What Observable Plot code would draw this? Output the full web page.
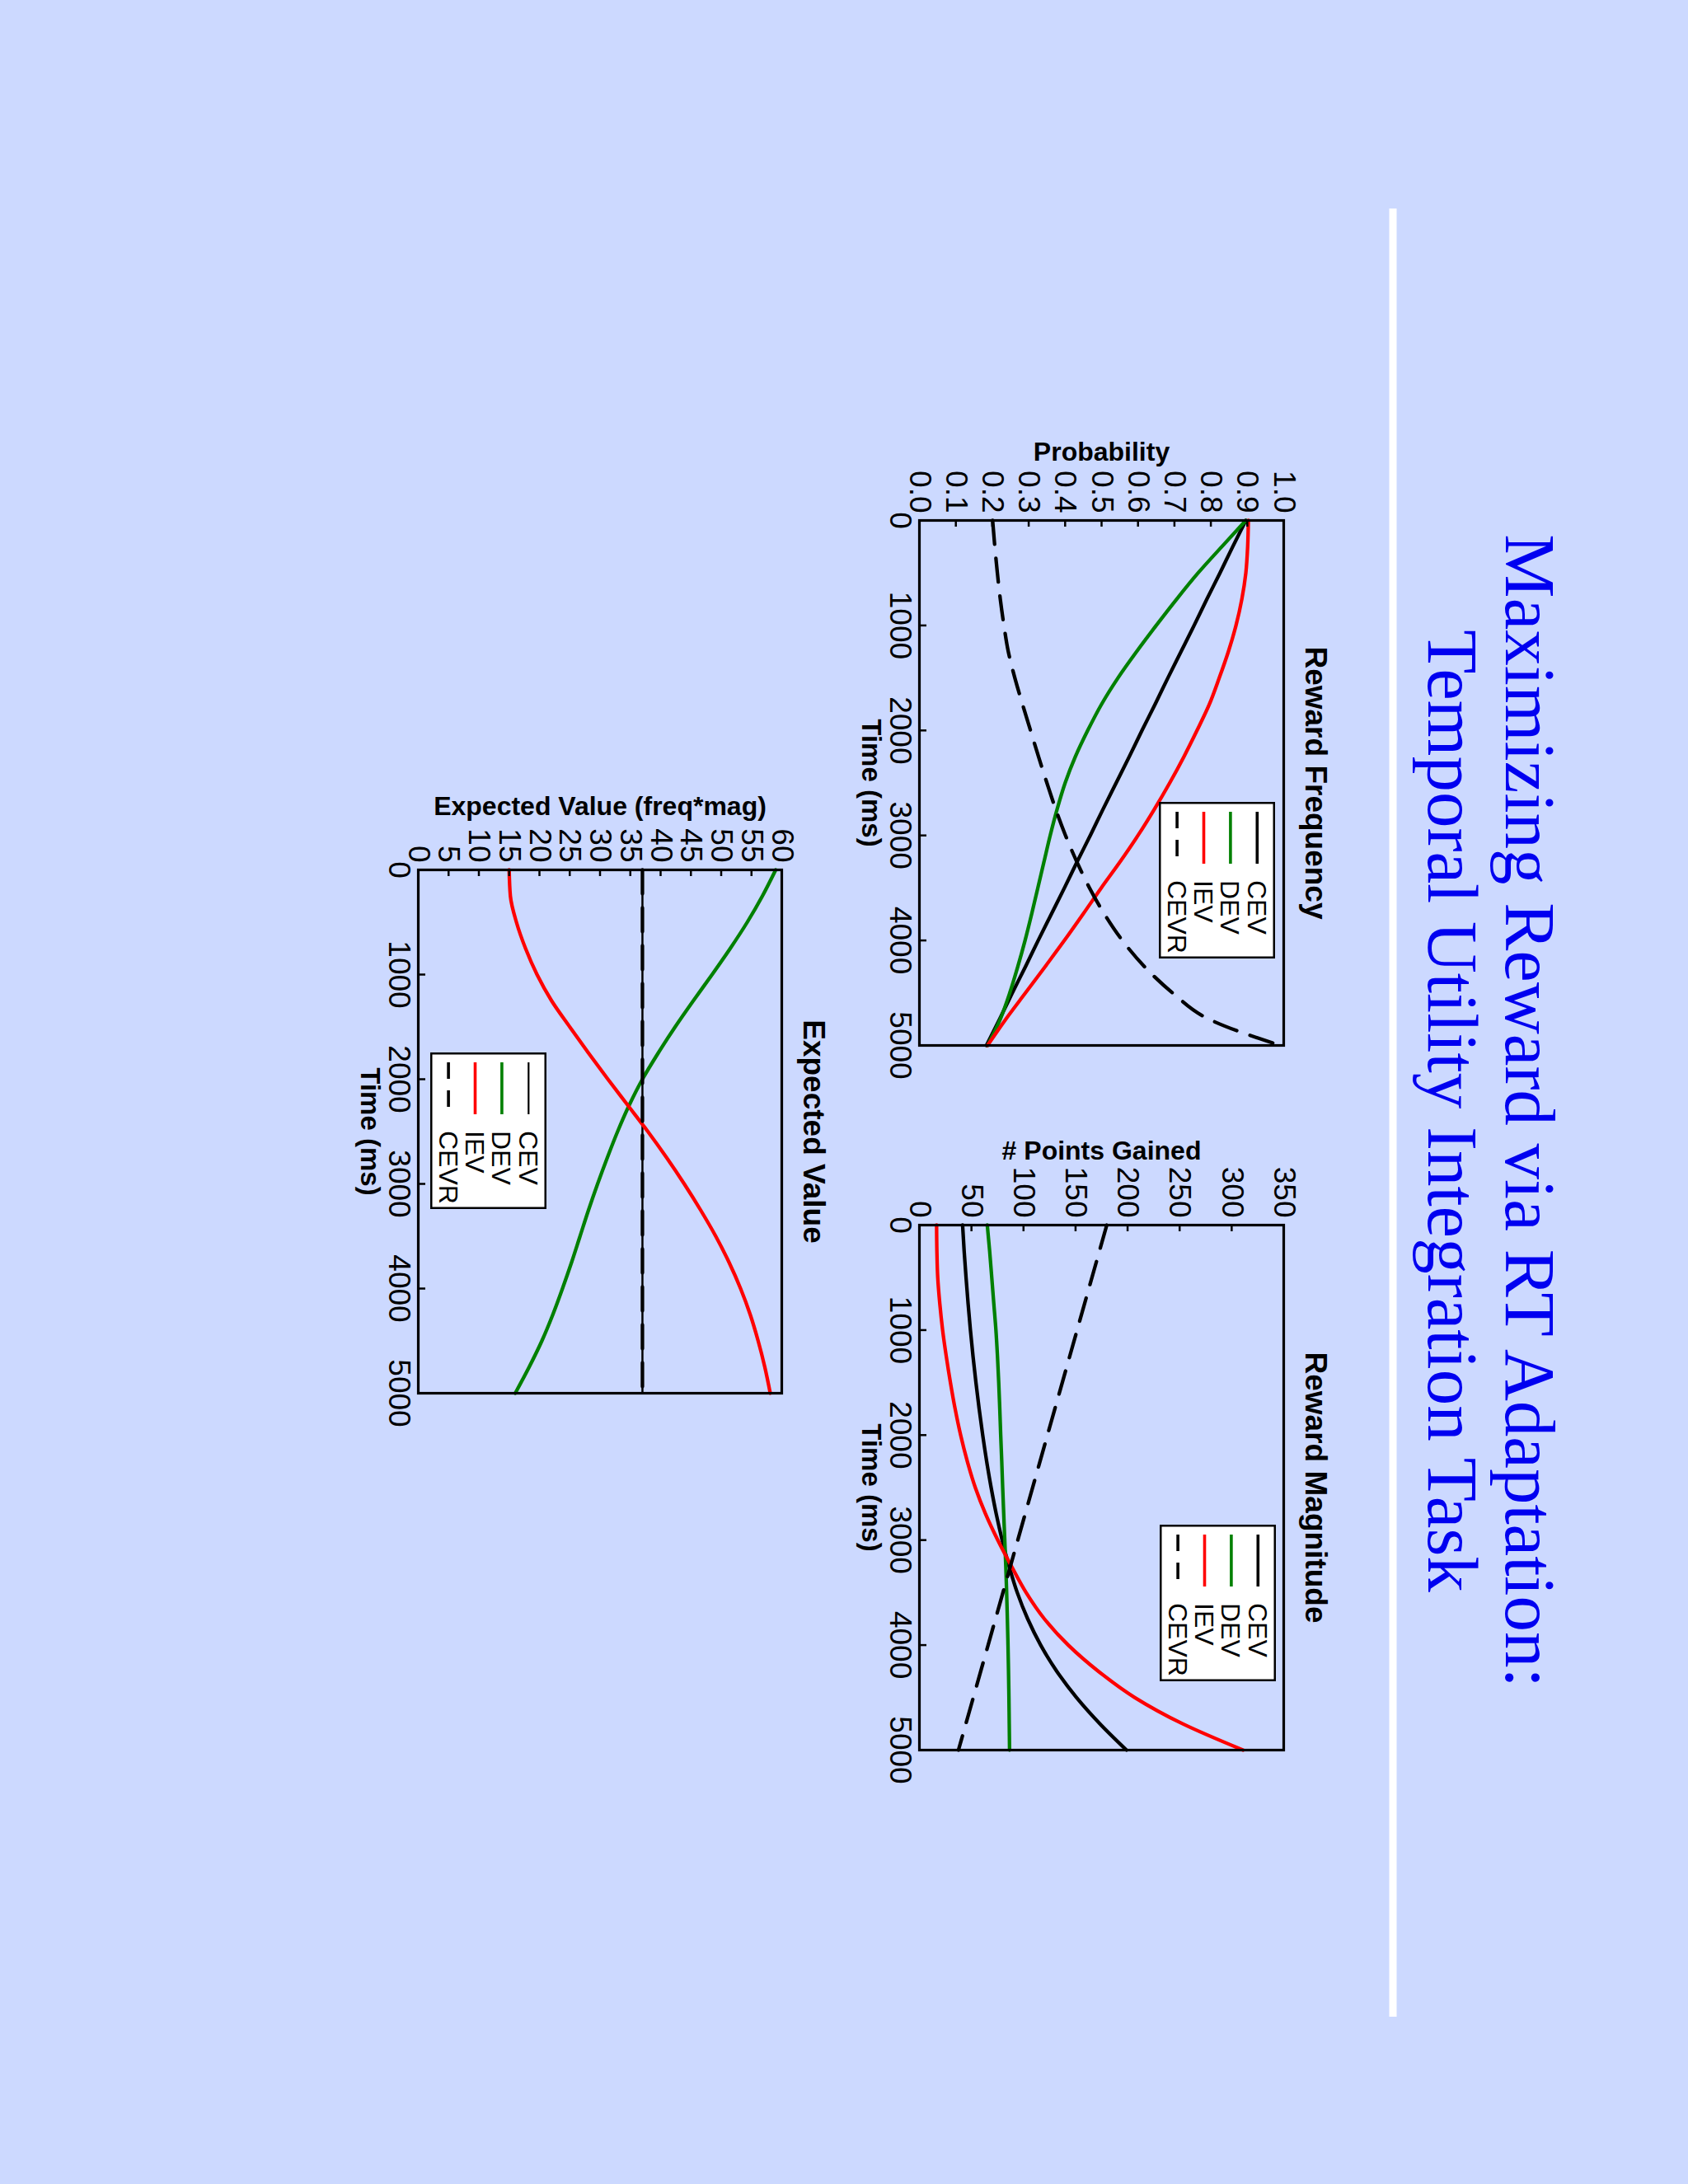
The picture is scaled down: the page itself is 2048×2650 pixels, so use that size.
<!DOCTYPE html>
<html>
<head>
<meta charset="utf-8">
<script src="https://cdn.jsdelivr.net/npm/d3@7"></script>
<script src="https://cdn.jsdelivr.net/npm/@observablehq/plot@0.6"></script>
<style>
html, body { margin: 0; padding: 0; background: #ccd9ff; }
body { width: 2048px; height: 2650px; overflow: hidden; position: relative; }
#slide { position: absolute; left: 0; top: 0; width: 2650px; height: 2048px;
  transform-origin: 0 0; transform: translate(2048px, 0) rotate(90deg); }
#slide > svg { position: absolute; }
</style>
</head>
<body>
<div id="slide"></div>
<script>
// ---------- data ----------
const TITLE_LINES = ["Maximizing Reward via RT Adaptation:", "Temporal Utility Integration Task"];
const CONDITIONS = ["CEV", "DEV", "IEV", "CEVR"];
const COLORS = ["#000000", "#008000", "#ff0000", "#000000"];
const TIME = [0, 250, 500, 750, 1000, 1250, 1500, 1750, 2000, 2250, 2500, 2750, 3000, 3250, 3500, 3750, 4000, 4250, 4500, 4750, 5000];
const TIME_TICKS = [0, 1000, 2000, 3000, 4000, 5000];

// Reward Frequency (probability)
const FREQ_CEV  = [0.896, 0.860, 0.825, 0.789, 0.754, 0.718, 0.682, 0.647, 0.611, 0.576, 0.540, 0.504, 0.469, 0.433, 0.398, 0.362, 0.326, 0.291, 0.255, 0.220, 0.184];
const FREQ_DEV  = [0.896, 0.830, 0.765, 0.706, 0.650, 0.596, 0.545, 0.500, 0.462, 0.428, 0.400, 0.378, 0.359, 0.342, 0.325, 0.308, 0.290, 0.270, 0.248, 0.222, 0.187];
const FREQ_IEV  = [0.903, 0.901, 0.896, 0.885, 0.869, 0.848, 0.823, 0.796, 0.762, 0.726, 0.687, 0.645, 0.600, 0.551, 0.499, 0.449, 0.398, 0.345, 0.291, 0.237, 0.187];
const FREQ_CEVR = [0.201, 0.207, 0.214, 0.222, 0.232, 0.244, 0.262, 0.283, 0.305, 0.327, 0.350, 0.374, 0.401, 0.432, 0.467, 0.508, 0.557, 0.618, 0.695, 0.795, 0.990];
const FREQ_TICKS = [0, 0.1, 0.2, 0.3, 0.4, 0.5, 0.6, 0.7, 0.8, 0.9, 1.0];

// Reward Magnitude (# points gained)
const MAG_CEV  = [41.5, 43.0, 44.8, 46.8, 49.0, 51.5, 54.3, 57.4, 60.8, 64.6, 68.9, 73.8, 79.5, 86.2, 94.0, 104.0, 116.5, 132.0, 151.0, 173.5, 199.0];
const MAG_DEV  = [65.2, 67.5, 69.5, 71.5, 73.5, 75.0, 76.2, 77.2, 78.1, 79.1, 80.0, 81.0, 82.0, 83.0, 83.8, 84.5, 85.1, 85.6, 86.0, 86.3, 86.6];
const MAG_IEV  = [16.5, 16.8, 17.6, 19.6, 22.3, 25.8, 29.8, 34.3, 39.6, 46.0, 53.7, 63.5, 75.3, 88.5, 102.5, 120.0, 143.0, 172.0, 207.0, 253.0, 311.0];
const MAG_CEVR_TIME = [0, 1000, 2000, 3000, 4000, 5000];
const MAG_CEVR = [180, 151.5, 123, 94.5, 66, 37.5];
const MAG_TICKS = [0, 50, 100, 150, 200, 250, 300, 350];

// Expected Value (freq*mag)
const EV_DEV  = [59.0, 56.8, 54.3, 51.5, 48.5, 45.4, 42.4, 39.6, 37.0, 34.8, 32.9, 31.2, 29.6, 28.1, 26.7, 25.3, 23.8, 22.2, 20.4, 18.3, 16.0];
const EV_IEV  = [15.0, 15.2, 16.2, 17.7, 19.6, 22.0, 25.0, 28.1, 31.3, 34.6, 37.9, 41.0, 43.9, 46.6, 49.1, 51.3, 53.2, 54.8, 56.1, 57.2, 58.1];
const EV_FLAT_TIME = [0, 5000];
const EV_CEV  = [37, 37];
const EV_CEVR = [37, 37];
const EV_TICKS = [0, 5, 10, 15, 20, 25, 30, 35, 40, 45, 50, 55, 60];

// ---------- drawing ----------
const SANS = "'Liberation Sans', Arial, Helvetica, sans-serif";
const slide = document.getElementById("slide");

// title + divider
const over = d3.select(slide).append("svg")
  .attr("width", 2650).attr("height", 2048).style("left", "0px").style("top", "0px");
over.append("line").attr("x1", 253).attr("x2", 2447).attr("y1", 358).attr("y2", 358)
  .attr("stroke", "#ffffff").attr("stroke-width", 9);
[221, 315].forEach((y, i) => {
  over.append("text").attr("x", 1348).attr("y", y).attr("text-anchor", "middle")
    .attr("font-family", "'Liberation Serif', 'Times New Roman', serif")
    .attr("font-size", 87).attr("fill", "#0000f0").text(TITLE_LINES[i]);
});

function chart(cfg) {
  const ML = 170, MR = 60, MT = 90, MB = 120;
  const marks = [];
  cfg.series.forEach((s, k) => {
    const data = s.t.map((t, i) => ({t, v: s.v[i]}));
    marks.push(Plot.line(data, {
      x: "t", y: "v", stroke: COLORS[k], strokeWidth: s.w,
      strokeDasharray: k === 3 ? "29,17" : undefined, curve: "monotone-x"
    }));
  });
  marks.push(
    Plot.frame({stroke: "black", strokeWidth: 3.2}),
    Plot.axisX({ticks: TIME_TICKS, tickFormat: "d", tickSize: -8, tickPadding: 17, fontSize: 37, label: null, strokeWidth: 2.5}),
    Plot.axisY({ticks: cfg.yTicks, tickFormat: cfg.yFormat, tickSize: -8, tickPadding: 17, fontSize: 37, label: null, strokeWidth: 2.5}),
    Plot.text([cfg.title], {text: d => d, frameAnchor: "top", textAnchor: "middle", dy: -26, lineAnchor: "bottom", fontSize: 37, fontWeight: "bold"}),
    Plot.text([cfg.yLabel], {text: d => d, frameAnchor: "left", textAnchor: "middle", rotate: -90, dx: cfg.yLabelDx, lineAnchor: "bottom", fontSize: 32, fontWeight: "bold"}),
    Plot.text(["Time (ms)"], {text: d => d, frameAnchor: "bottom", textAnchor: "middle", dy: 70, lineAnchor: "bottom", fontSize: 33, fontWeight: "bold"})
  );
  const svg = Plot.plot({
    width: cfg.frame.w + ML + MR, height: cfg.frame.h + MT + MB,
    marginLeft: ML, marginRight: MR, marginTop: MT, marginBottom: MB,
    x: {domain: [0, 5000]},
    y: {domain: cfg.yDomain},
    style: {background: "transparent", overflow: "visible", fontFamily: SANS, color: "black"},
    marks
  });
  svg.style.position = "absolute";
  svg.style.left = (cfg.frame.x - ML) + "px";
  svg.style.top = (cfg.frame.y - MT) + "px";
  svg.style.maxWidth = "none";
  slide.appendChild(svg);

  // legend box
  const lg = d3.select(slide).append("svg").attr("width", 190).attr("height", 141)
    .style("left", cfg.legend.x + "px").style("top", cfg.legend.y + "px");
  lg.append("rect").attr("x", 1.25).attr("y", 1.25).attr("width", 187.5).attr("height", 138.5)
    .attr("fill", "white").attr("stroke", "black").attr("stroke-width", 2.5);
  CONDITIONS.forEach((c, k) => {
    const y = 21.7 + k * 32.4;
    lg.append("line").attr("x1", 12).attr("x2", 75).attr("y1", y).attr("y2", y)
      .attr("stroke", COLORS[k]).attr("stroke-width", cfg.legendWidths[k])
      .attr("stroke-dasharray", k === 3 ? "20,14" : null);
    lg.append("text").attr("x", 95).attr("y", y).attr("dy", "0.36em")
      .attr("font-family", SANS).attr("font-size", 32).attr("fill", "black").text(c);
  });
}

chart({
  title: "Reward Frequency", yLabel: "Probability", yLabelDx: -73,
  yDomain: [0, 1], yTicks: FREQ_TICKS, yFormat: d3.format(".1f"),
  frame: {x: 631, y: 490, w: 637, h: 442},
  legend: {x: 973, y: 501}, legendWidths: [3.6, 3.6, 3.6, 3.6],
  series: [
    {t: TIME, v: FREQ_CEV, w: 4.3},
    {t: TIME, v: FREQ_DEV, w: 4.3},
    {t: TIME, v: FREQ_IEV, w: 4.3},
    {t: TIME, v: FREQ_CEVR, w: 4.3}
  ]
});

chart({
  title: "Reward Magnitude", yLabel: "# Points Gained", yLabelDx: -80,
  yDomain: [0, 350], yTicks: MAG_TICKS, yFormat: "d",
  frame: {x: 1486, y: 490, w: 637, h: 442},
  legend: {x: 1850, y: 500}, legendWidths: [3.6, 3.6, 3.6, 3.6],
  series: [
    {t: TIME, v: MAG_CEV, w: 4.3},
    {t: TIME, v: MAG_DEV, w: 4.3},
    {t: TIME, v: MAG_IEV, w: 4.3},
    {t: MAG_CEVR_TIME, v: MAG_CEVR, w: 4.3}
  ]
});

chart({
  title: "Expected Value", yLabel: "Expected Value (freq*mag)", yLabelDx: -67,
  yDomain: [0, 60], yTicks: EV_TICKS, yFormat: "d",
  frame: {x: 1055, y: 1099, w: 635, h: 441},
  legend: {x: 1277, y: 1385}, legendWidths: [2.2, 3.6, 3.6, 3.6],
  series: [
    {t: EV_FLAT_TIME, v: EV_CEV, w: 2.5},
    {t: TIME, v: EV_DEV, w: 4.3},
    {t: TIME, v: EV_IEV, w: 4.3},
    {t: EV_FLAT_TIME, v: EV_CEVR, w: 4.3}
  ]
});
</script>
</body>
</html>
